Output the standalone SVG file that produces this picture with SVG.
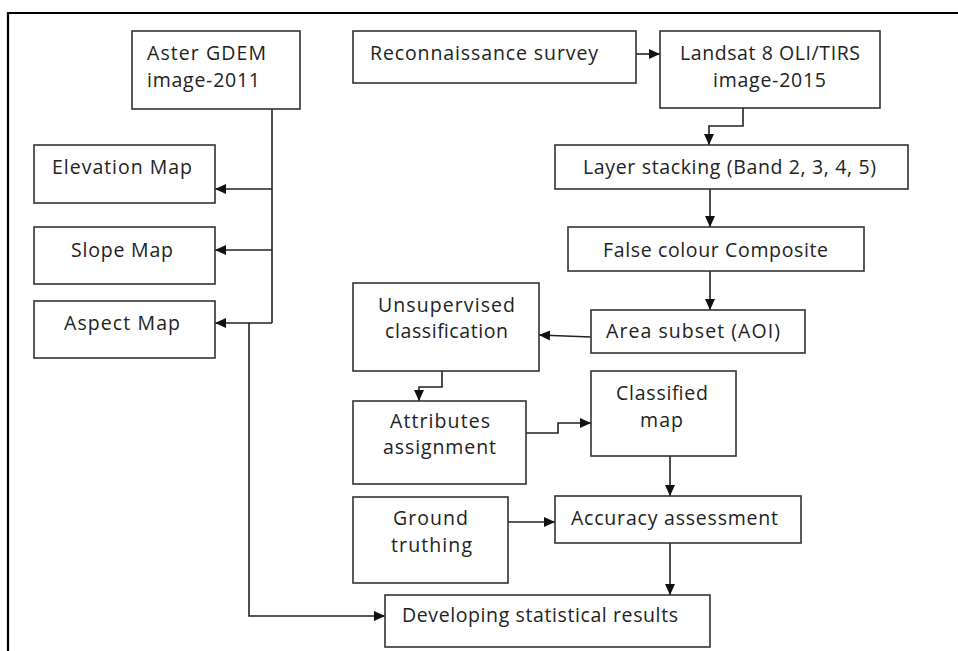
<svg xmlns="http://www.w3.org/2000/svg" width="958" height="651" viewBox="0 0 958 651">
<defs>
<marker id="ah" markerWidth="11" markerHeight="11" refX="11" refY="5.5" orient="auto" markerUnits="userSpaceOnUse">
<path d="M0,0.5 L11,5.5 L0,10.5 Z" fill="#111"/>
</marker>
<style>
.box{fill:#fff;stroke:#333;stroke-width:1.6}
.t{font-family:"Open Sans","Liberation Sans",sans-serif;font-size:19.5px;fill:#222}
.c{fill:none;stroke:#222;stroke-width:1.6;marker-end:url(#ah)}
.l{fill:none;stroke:#222;stroke-width:1.6}
</style>
</defs>
<rect x="0" y="0" width="958" height="651" fill="#fff"/>
<path d="M8,651 V13 H958" fill="none" stroke="#000" stroke-width="2.2"/>
<g id="connectors">
<path class="l" d="M272,109 V323"/>
<path class="c" d="M272,189 H215"/>
<path class="c" d="M272,250 H215"/>
<path class="c" d="M272,323 H215"/>
<path class="c" d="M249,323 V616 H385"/>
<path class="c" d="M636,54 H660"/>
<path class="c" d="M743,108 V126 H709 V145"/>
<path class="c" d="M710,189 V227"/>
<path class="c" d="M710,271 V310"/>
<path class="c" d="M591,337 L539,335"/>
<path class="c" d="M442,371 V387 H419 V401"/>
<path class="c" d="M526,433 H558 V423 H591"/>
<path class="c" d="M670,456 V496"/>
<path class="c" d="M508,522 H555"/>
<path class="c" d="M670,543 V595"/>
</g>
<g id="aster"><rect class="box" x="132" y="31" width="168" height="78"/>
<text class="t" x="147" y="60" textLength="119">Aster GDEM</text>
<text class="t" x="147" y="87" textLength="113">image-2011</text></g>
<g id="elevation"><rect class="box" x="34" y="145" width="181" height="58"/>
<text class="t" x="52" y="174" textLength="140">Elevation Map</text></g>
<g id="slope"><rect class="box" x="34" y="227" width="181" height="57"/>
<text class="t" x="71" y="257" textLength="102">Slope Map</text></g>
<g id="aspect"><rect class="box" x="34" y="301" width="181" height="57"/>
<text class="t" x="64" y="330" textLength="116">Aspect Map</text></g>
<g id="recon"><rect class="box" x="353" y="31" width="283" height="52"/>
<text class="t" x="370" y="60" textLength="228">Reconnaissance survey</text></g>
<g id="landsat"><rect class="box" x="660" y="31" width="220" height="77"/>
<text class="t" x="680" y="60" textLength="180">Landsat 8 OLI/TIRS</text>
<text class="t" x="713" y="87" textLength="113">image-2015</text></g>
<g id="layer"><rect class="box" x="555" y="145" width="353" height="44"/>
<text class="t" x="583" y="174" textLength="293">Layer stacking (Band 2, 3, 4, 5)</text></g>
<g id="fcc"><rect class="box" x="568" y="227" width="296" height="44"/>
<text class="t" x="603" y="257" textLength="225">False colour Composite</text></g>
<g id="aoi"><rect class="box" x="591" y="310" width="214" height="43"/>
<text class="t" x="606" y="338" textLength="174">Area subset (AOI)</text></g>
<g id="unsup"><rect class="box" x="353" y="283" width="186" height="88"/>
<text class="t" x="378" y="312" textLength="137">Unsupervised</text>
<text class="t" x="385" y="338" textLength="123">classification</text></g>
<g id="attr"><rect class="box" x="353" y="401" width="173" height="83"/>
<text class="t" x="390" y="428" textLength="100">Attributes</text>
<text class="t" x="383" y="454" textLength="113">assignment</text></g>
<g id="classified"><rect class="box" x="591" y="371" width="145" height="85"/>
<text class="t" x="616" y="400" textLength="92">Classified</text>
<text class="t" x="640" y="427" textLength="43">map</text></g>
<g id="accuracy"><rect class="box" x="555" y="496" width="246" height="47"/>
<text class="t" x="571" y="525" textLength="207">Accuracy assessment</text></g>
<g id="ground"><rect class="box" x="353" y="497" width="155" height="86"/>
<text class="t" x="393" y="525" textLength="75">Ground</text>
<text class="t" x="391" y="552" textLength="81">truthing</text></g>
<g id="develop"><rect class="box" x="385" y="595" width="325" height="52"/>
<text class="t" x="402" y="622" textLength="276">Developing statistical results</text></g>
</svg>
